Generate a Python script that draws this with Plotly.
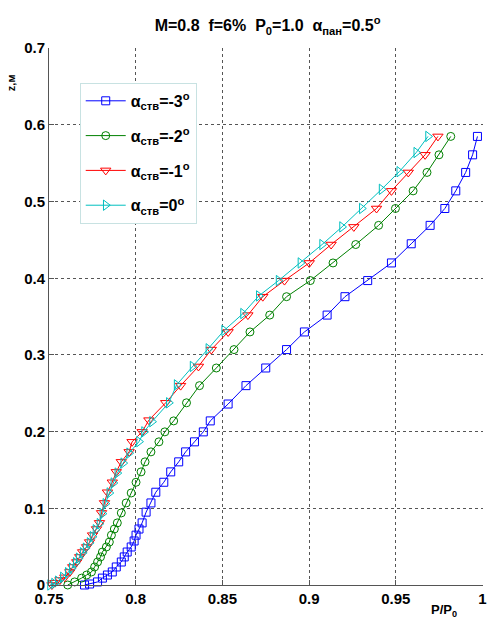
import plotly.graph_objects as go

# ---- data ----
p_m3 = [0.7705, 0.7734, 0.778, 0.7808, 0.7837, 0.7865, 0.7888, 0.7917, 0.7934, 0.7951,
        0.7974, 0.7991, 0.8002, 0.8019, 0.8037, 0.806, 0.8088, 0.8116, 0.8162, 0.8202,
        0.8248, 0.8288, 0.8339, 0.839, 0.843, 0.8533, 0.8636, 0.875, 0.887, 0.8973,
        0.9104, 0.9207, 0.9338, 0.9475, 0.9589, 0.9698, 0.9783, 0.9846, 0.9903, 0.9943, 0.9971]
z_m3 = [0.0, 0.0013, 0.004, 0.009, 0.013, 0.017, 0.0235, 0.030, 0.0366, 0.043,
        0.0496, 0.0574, 0.065, 0.073, 0.081, 0.095, 0.107, 0.121, 0.134, 0.1475,
        0.1606, 0.1736, 0.1867, 0.1997, 0.214, 0.236, 0.26, 0.283, 0.307, 0.330,
        0.352, 0.376, 0.397, 0.420, 0.445, 0.469, 0.491, 0.514, 0.538, 0.561, 0.585]

p_m2 = [0.7608, 0.7648, 0.7688, 0.7717, 0.7745, 0.7763, 0.778, 0.7797, 0.7808, 0.7831,
        0.7848, 0.786, 0.7877, 0.7894, 0.7917, 0.7945, 0.7974, 0.8002, 0.8031, 0.8054,
        0.8088, 0.8134, 0.8168, 0.8219, 0.8293, 0.8368, 0.8465, 0.8567, 0.8659, 0.8773,
        0.887, 0.9007, 0.9138, 0.9269, 0.9401, 0.9498, 0.96, 0.968, 0.9749, 0.9817]
z_m2 = [0.0, 0.004, 0.009, 0.013, 0.017, 0.0235, 0.030, 0.0366, 0.043, 0.0496,
        0.056, 0.065, 0.073, 0.081, 0.094, 0.107, 0.120, 0.134, 0.1475, 0.1606,
        0.1736, 0.1867, 0.1997, 0.214, 0.2376, 0.26, 0.283, 0.307, 0.330, 0.352,
        0.376, 0.397, 0.420, 0.444, 0.469, 0.491, 0.514, 0.538, 0.561, 0.585]

p_m1 = [0.7517, 0.7534, 0.7563, 0.7591, 0.762, 0.7637, 0.766, 0.7677, 0.7694, 0.7717,
        0.7734, 0.7751, 0.7774, 0.7791, 0.7803, 0.782, 0.7837, 0.7865, 0.7888, 0.7917,
        0.7962, 0.7979, 0.8037, 0.8076, 0.8173, 0.8259, 0.8362, 0.8436, 0.8533, 0.8647,
        0.8733, 0.8858, 0.9001, 0.9127, 0.9258, 0.9389, 0.9475, 0.9572, 0.9669, 0.9743]
z_m1 = [0.0, 0.003, 0.0065, 0.010, 0.017, 0.0235, 0.030, 0.0366, 0.043, 0.0496,
        0.056, 0.065, 0.073, 0.081, 0.094, 0.107, 0.121, 0.134, 0.1475, 0.1606,
        0.1736, 0.1867, 0.1997, 0.215, 0.2376, 0.26, 0.285, 0.307, 0.330, 0.352,
        0.376, 0.397, 0.420, 0.444, 0.467, 0.491, 0.514, 0.538, 0.561, 0.585]

p_0 = [0.7506, 0.7529, 0.7551, 0.758, 0.7608, 0.7631, 0.7654, 0.7671, 0.7694, 0.7711,
       0.7734, 0.7751, 0.7768, 0.7791, 0.7808, 0.7825, 0.7848, 0.7871, 0.7894, 0.7928,
       0.7962, 0.8019, 0.8048, 0.8094, 0.8191, 0.8236, 0.8328, 0.8419, 0.851, 0.8619,
       0.871, 0.8824, 0.895, 0.9075, 0.919, 0.9304, 0.9418, 0.952, 0.9618, 0.9686]
z_0 = [0.0, 0.002, 0.005, 0.010, 0.016, 0.022, 0.029, 0.035, 0.042, 0.048,
       0.055, 0.063, 0.072, 0.080, 0.093, 0.106, 0.120, 0.133, 0.146, 0.159,
       0.172, 0.187, 0.1997, 0.213, 0.2376, 0.261, 0.285, 0.308, 0.332, 0.354,
       0.377, 0.397, 0.420, 0.444, 0.467, 0.491, 0.516, 0.539, 0.564, 0.585]

series_names = ["α<sub>ств</sub>=-3<sup>o</sup>", "α<sub>ств</sub>=-2<sup>o</sup>",
                "α<sub>ств</sub>=-1<sup>o</sup>", "α<sub>ств</sub>=0<sup>o</sup>"]
x_ticks = [0.75, 0.8, 0.85, 0.9, 0.95, 1.0]
x_tick_labels = ["0.75", "0.8", "0.85", "0.9", "0.95", "1"]
y_ticks = [0, 0.1, 0.2, 0.3, 0.4, 0.5, 0.6, 0.7]
y_tick_labels = ["0", "0.1", "0.2", "0.3", "0.4", "0.5", "0.6", "0.7"]

FONT = "Liberation Sans, Arial, sans-serif"

styles = [
    ("#0000ff", "square-open", 8),
    ("#008000", "circle-open", 8),
    ("#ff0000", "triangle-down-open", 9),
    ("#00bfbf", "triangle-right-open", 9),
]
data = [(p_m3, z_m3), (p_m2, z_m2), (p_m1, z_m1), (p_0, z_0)]

fig = go.Figure()
for i, ((px, pz), name, (col, sym, sz)) in enumerate(zip(data, series_names, styles)):
    fig.add_trace(go.Scatter(
        x=px, y=pz, mode="lines+markers", name=name, legendgroup=f"g{i}",
        line=dict(color=col, width=1),
        marker=dict(symbol=sym, size=sz, color=col, line=dict(color=col, width=1)),
        cliponaxis=False,
    ))

axis_common = dict(
    showgrid=True, gridcolor="#555555", griddash="dot", gridwidth=1,
    showline=True, linecolor="#555555", linewidth=1, mirror=False,
    ticks="inside", ticklen=5, tickcolor="#555555",
    zeroline=False, ticklabeloverflow="allow",
    tickfont=dict(family=FONT, size=15, color="black", weight="bold"),
)

fig.update_layout(
    width=491, height=624,
    margin=dict(l=49, r=4, t=48, b=39),
    paper_bgcolor="white", plot_bgcolor="white",
    title=dict(
        text="M=0.8\u00a0\u00a0f=6%\u00a0\u00a0P<sub>0</sub>=1.0\u00a0\u00a0α<sub>пан</sub>=0.5<sup>o</sup>",
        x=0.545, xanchor="center", y=0.959, yanchor="middle",
        font=dict(family=FONT, size=16, color="black", weight="bold"),
    ),
    xaxis=dict(range=[0.75, 1.0003], tickvals=x_ticks, ticktext=x_tick_labels, **axis_common),
    yaxis=dict(range=[0, 0.7003], tickvals=y_ticks, ticktext=y_tick_labels, **axis_common),
    legend=dict(
        x=0.0708, y=0.935, xanchor="left", yanchor="top",
        bordercolor="#c8e2e2", borderwidth=1, bgcolor="white",
        font=dict(family=FONT, size=16, color="black", weight="bold"),
        itemwidth=40, tracegroupgap=11, traceorder="grouped",
    ),
    showlegend=True,
)

fig.add_annotation(text="z,м", xref="paper", yref="paper", x=-0.087, y=0.935,
                   xanchor="center", yanchor="middle",
                   textangle=-90, showarrow=False,
                   font=dict(family=FONT, size=11, color="black", weight="bold"))
fig.add_annotation(text="P/P<sub>0</sub>", xref="paper", yref="paper", x=0.911, y=-0.048,
                   showarrow=False, xanchor="center", yanchor="middle",
                   font=dict(family=FONT, size=13, color="black", weight="bold"))

fig.write_html("out.html")
